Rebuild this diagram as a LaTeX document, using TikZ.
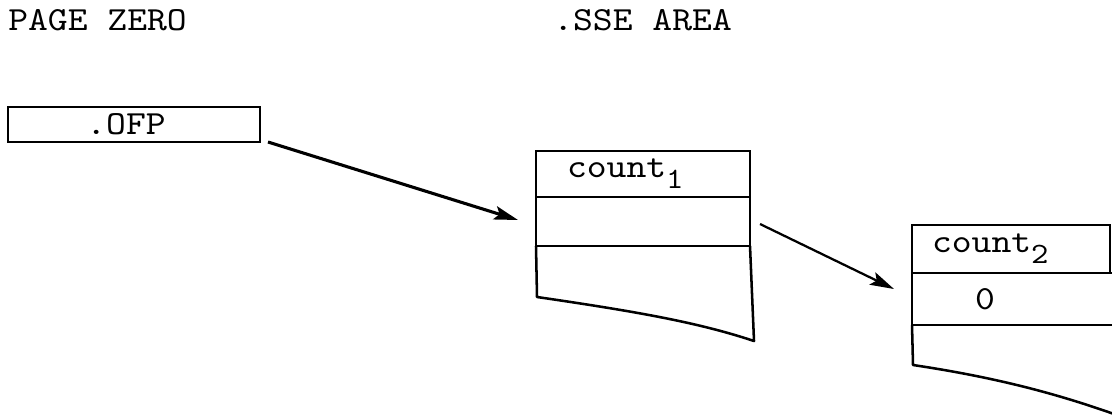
\documentclass[tikz,border=0pt]{standalone}
\usepackage{fontspec}
\setmonofont{lmmono10-regular.otf}[FakeStretch=1.12]
\usetikzlibrary{arrows.meta, positioning, calc}
\newcommand{\subdigit}[1]{\raisebox{-2.8mm}{\fontsize{21}{24}\selectfont #1}}
\tikzset{
  sse title/.style={
    font=\ttfamily\fontsize{24}{28}\selectfont, inner sep=0pt
  },
  sse cell/.style={
    rectangle, draw=black, line width=1.8pt, inner ysep=0pt, outer sep=0pt,
    font=\ttfamily\fontsize{24}{28}\selectfont, align=left
  },
  sse line/.style={
    draw=black, line width=1.8pt, line join=round
  },
  sse arrow/.style={
    -{Stealth[length=6mm, width=3.4mm, inset=1.2mm]}, draw=black, line width=2.2pt
  }
}

\begin{document}
\begin{tikzpicture}[x=0.25mm, y=-0.25mm]
  \useasboundingbox (0,0) rectangle (1112,415);
  % headings
  \node (pz) [sse title, anchor=base west] at (8,30) {PAGE ZERO};
  \node (sa) [sse title, anchor=base west] at (553,30) {.SSE AREA};
  % page zero word
  \node (ofp) [sse cell, minimum width=63mm, minimum height=8.75mm, align=center] at (134,124.5) {.OFP\hspace{4mm}};
  % first block
  \node (c1a) [sse cell, text width=38mm, inner xsep=7.75mm, minimum height=11.5mm] at (643,174) {count\subdigit{1}};
  \node (c1b) [sse cell, text width=38mm, inner xsep=7.75mm, minimum height=12.25mm, below=0pt of c1a] {};
  \coordinate (c1l) at (537,297);
  \coordinate (c1r) at (754,341);
  \draw [sse line] (c1b.south west) -- (c1l) .. controls (640,312) and (700,323) .. (c1r) -- (c1b.south east);
  % second block
  \node (c2a) [sse cell, text width=39.5mm, inner xsep=5mm, minimum height=12mm] at (1011,249) {count\subdigit{2}};
  \node (c2b) [sse cell, text width=21mm, inner xsep=15.75mm, minimum height=13mm, anchor=north west] at (c2a.south west) {\raisebox{-2.6mm}{0}};
  \coordinate (c2l) at (913,365);
  \coordinate (c2r) at (1114,414);
  \draw [sse line] (c2b.south west) -- (c2l) .. controls (1000,378) and (1060,395) .. (c2r);
  % pointers
  \draw [sse arrow] ($(ofp.south east)+(8,0)$) -- ($(c1b.west)+(-18,-1.5)$);
  \draw [sse arrow, line width=1.6pt] ($(c1b.east)+(10,2.5)$) -- ($(c2b.west)+(-18,-10)$);
\end{tikzpicture}
\end{document}
